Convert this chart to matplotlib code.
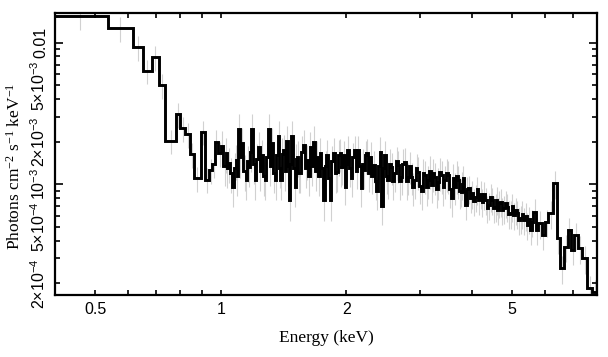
import numpy as np
import matplotlib
matplotlib.use("Agg")
import matplotlib.pyplot as plt
from matplotlib.ticker import FixedLocator, FixedFormatter

plt.rcParams['font.family'] = ['Liberation Sans', 'DejaVu Sans']
plt.rcParams['mathtext.default'] = 'regular'

# ---- data: bin edges (keV) and flux (1e-3 photons cm^-2 s^-1 keV^-1) ----
edges_low = [0.395, 0.535, 0.616, 0.651, 0.683, 0.711, 0.736, 0.782, 0.800, 0.822,
             0.844, 0.861, 0.894, 0.914, 0.936, 0.954, 0.968, 0.984, 1.003]
vals_low = [15.4, 12.6, 9.28, 6.34, 7.89, 5.00, 2.03, 3.12, 2.49, 2.26,
            1.64, 1.11, 2.35, 1.08, 1.26, 1.39, 2.00, 1.66]

edges_mid1 = [1.015, 1.027, 1.0335, 1.040, 1.0524, 1.065, 1.075, 1.085, 1.092, 1.099,
              1.1095, 1.120, 1.1334, 1.147, 1.1575, 1.168, 1.176, 1.184, 1.195, 1.206,
              1.217, 1.228, 1.2395, 1.251, 1.2625, 1.274, 1.286, 1.298, 1.310, 1.322,
              1.3345, 1.347, 1.3595, 1.372, 1.381, 1.390, 1.400, 1.410, 1.423, 1.436,
              1.447, 1.458, 1.4675, 1.477, 1.4905, 1.504, 1.514, 1.524, 1.535, 1.546,
              1.5605, 1.575, 1.590, 1.605, 1.6195, 1.634, 1.6495, 1.665, 1.6805, 1.696,
              1.7115, 1.727, 1.7435, 1.760, 1.776, 1.792, 1.809, 1.826, 1.843, 1.860,
              1.8775, 1.895, 1.9125, 1.930]
vals_mid1 = [1.87, 1.35, 1.66, 1.30, 1.41, 1.20, 0.96, 1.30, 1.48, 1.15,
             2.45, 1.55, 1.95, 1.25, 1.07, 1.45, 1.33, 1.70, 2.45, 1.40,
             1.07, 1.50, 1.84, 1.25, 1.61, 1.15, 1.07, 1.55, 2.45, 1.35,
             1.95, 1.20, 1.07, 1.60, 2.19, 1.30, 1.07, 1.65, 1.75, 1.25,
             2.03, 1.35, 0.77, 1.40, 2.19, 1.30, 0.96, 1.50, 1.57, 1.20,
             1.20, 1.70, 1.90, 1.30, 1.48, 1.15, 1.84, 1.35, 2.00, 1.25,
             1.57, 1.15, 1.66, 1.30, 0.77, 1.35, 1.61, 1.10, 0.77, 1.45,
             1.66, 1.20, 1.23, 1.60]

edges_mid2 = [1.939, 1.948, 1.966, 1.984, 1.999, 2.014, 2.0324, 2.051, 2.070, 2.089,
              2.1084, 2.128, 2.148, 2.168, 2.182, 2.196, 2.2164, 2.237, 2.2574, 2.278,
              2.2994, 2.321, 2.3424, 2.364, 2.386, 2.408, 2.4195, 2.431, 2.449, 2.467,
              2.490, 2.513, 2.536, 2.559, 2.583, 2.607, 2.6314, 2.656, 2.6804, 2.705,
              2.730, 2.755, 2.781, 2.807, 2.833, 2.859, 2.8854, 2.912, 2.939, 2.966,
              2.994, 3.022, 3.050, 3.078, 3.1064, 3.135, 3.1644, 3.194, 3.2234, 3.253,
              3.2834, 3.314, 3.3444, 3.375, 3.4064, 3.438, 3.470, 3.502, 3.5344, 3.567,
              3.6004, 3.634, 3.668, 3.702, 3.736, 3.770]
vals_mid2 = [1.66, 1.30, 1.33, 1.60, 0.96, 1.40, 1.75, 1.30, 1.10, 1.55,
             1.75, 1.25, 1.75, 1.35, 0.94, 1.40, 1.26, 1.60, 1.66, 1.20,
             1.57, 1.15, 1.37, 1.05, 0.89, 1.35, 1.70, 1.20, 0.70, 1.30,
             1.61, 1.15, 1.07, 1.40, 1.33, 1.05, 1.20, 1.45, 1.37, 1.05,
             1.13, 1.40, 1.44, 1.05, 1.13, 1.35, 1.13, 0.95, 1.07, 1.30,
             1.23, 0.98, 0.89, 1.20, 1.16, 0.95, 1.07, 1.25, 0.99, 1.20,
             1.13, 0.92, 1.04, 1.22, 1.16, 0.95, 1.07, 1.20, 1.16, 0.92,
             0.80, 1.10, 0.96, 1.15, 1.07, 0.90]

edges_hi = [3.7875, 3.805, 3.830, 3.855, 3.8904, 3.926, 3.963, 4.000, 4.037, 4.074,
            4.112, 4.150, 4.1883, 4.227, 4.2663, 4.306, 4.3458, 4.386, 4.4268, 4.468,
            4.5093, 4.551, 4.5804, 4.610, 4.6444, 4.679, 4.7223, 4.766, 4.8098, 4.854,
            4.8993, 4.945, 4.9908, 5.037, 5.0838, 5.131, 5.1783, 5.226, 5.2748, 5.324,
            5.3733, 5.423, 5.4733, 5.524, 5.5748, 5.626,
            5.710, 5.784, 5.892, 6.002, 6.114, 6.285, 6.402, 6.521, 6.679, 6.804,
            6.931, 7.060, 7.218, 7.379, 7.586, 7.770, 8.100]
vals_hi = [0.887, 1.00, 1.102, 0.90, 0.714, 0.92, 0.937, 0.80, 0.864, 0.76,
           0.817, 0.92, 0.774, 0.86, 0.754, 0.85, 0.774, 0.68, 0.714, 0.82,
           0.774, 0.68, 0.695, 0.78, 0.658, 0.74, 0.754, 0.66, 0.677, 0.74,
           0.695, 0.62, 0.624, 0.70, 0.607, 0.66, 0.624, 0.56, 0.575, 0.62,
           0.560, 0.60, 0.516, 0.57, 0.476, 0.54,
           0.641, 0.476, 0.530, 0.439, 0.544, 0.624, 1.016, 0.416, 0.255, 0.362,
           0.476, 0.344, 0.439, 0.353, 0.300, 0.184, 0.174]

# relative 1-sigma errors per segment
rel_err_low, rel_err_mid1, rel_err_mid2, rel_err_hi = 0.20, 0.28, 0.26, 0.22

x_major = [0.5, 1, 2, 5]
x_major_labels = ["0.5", "1", "2", "5"]
x_minor = [0.6, 0.7, 0.8, 0.9, 3, 4, 6, 7]
y_major = [1e-3, 1e-2]
y_major_labels = ["$10^{-3}$", "0.01"]
y_minor = [2e-4, 3e-4, 4e-4, 5e-4, 6e-4, 7e-4, 8e-4, 9e-4,
           2e-3, 3e-3, 4e-3, 5e-3, 6e-3, 7e-3, 8e-3, 9e-3]
y_minor_labels = ["2×$10^{-4}$", "", "", "5×$10^{-4}$", "", "", "", "",
                  "2×$10^{-3}$", "", "", "5×$10^{-3}$", "", "", "", ""]

# ---- assemble ----
edges = np.array(edges_low + edges_mid1 + edges_mid2 + edges_hi)
vals = np.array(vals_low + vals_mid1 + vals_mid2 + vals_hi) * 1e-3
rel = np.concatenate([np.full(len(vals_low), rel_err_low),
                      np.full(len(vals_mid1), rel_err_mid1),
                      np.full(len(vals_mid2), rel_err_mid2),
                      np.full(len(vals_hi), rel_err_hi)])
centers = np.sqrt(edges[:-1] * edges[1:])

fig = plt.figure(figsize=(6.08, 3.57), dpi=100)
ax = fig.add_axes([55/608, 62/357, 542/608, 282/357])

ax.vlines(centers, vals * (1 - rel), vals * (1 + rel), color='0.82', lw=0.8, zorder=1)
ax.stairs(vals, edges, color='black', lw=2.1, baseline=None, zorder=2)

ax.set_xscale('log')
ax.set_yscale('log')
ax.set_xlim(0.4, 8.0)
ax.set_ylim(1.653e-4, 0.01621)

ax.xaxis.set_major_locator(FixedLocator(x_major))
ax.xaxis.set_major_formatter(FixedFormatter(x_major_labels))
ax.xaxis.set_minor_locator(FixedLocator(x_minor))
ax.xaxis.set_minor_formatter(FixedFormatter([""] * len(x_minor)))
ax.yaxis.set_major_locator(FixedLocator(y_major))
ax.yaxis.set_major_formatter(FixedFormatter(y_major_labels))
ax.yaxis.set_minor_locator(FixedLocator(y_minor))
ax.yaxis.set_minor_formatter(FixedFormatter(y_minor_labels))

for s in ax.spines.values():
    s.set_linewidth(1.6)
    s.set_zorder(3)

ax.tick_params(which='both', direction='in', top=True, right=True, width=1.2,
               labelsize=11.5, colors='black')
ax.tick_params(axis='x', which='both', length=3.3, pad=4.8)
ax.tick_params(axis='y', which='major', length=5.8, pad=5)
ax.tick_params(axis='y', which='minor', length=3.3, pad=5)
ax.tick_params(axis='y', which='both', labelrotation=90)
for lbl in ax.get_yticklabels(which='both'):
    lbl.set_va('center')

ax.set_xlabel("Energy (keV)", fontfamily='Liberation Serif', fontsize=12.5)
ax.set_ylabel("Photons cm$^{-2}$ s$^{-1}$ keV$^{-1}$", fontfamily='Liberation Serif', fontsize=12.5)
ax.xaxis.set_label_coords(0.5, -0.125)
ax.yaxis.set_label_coords(-0.057, 0.457)

fig.savefig("out.png", dpi=100)
